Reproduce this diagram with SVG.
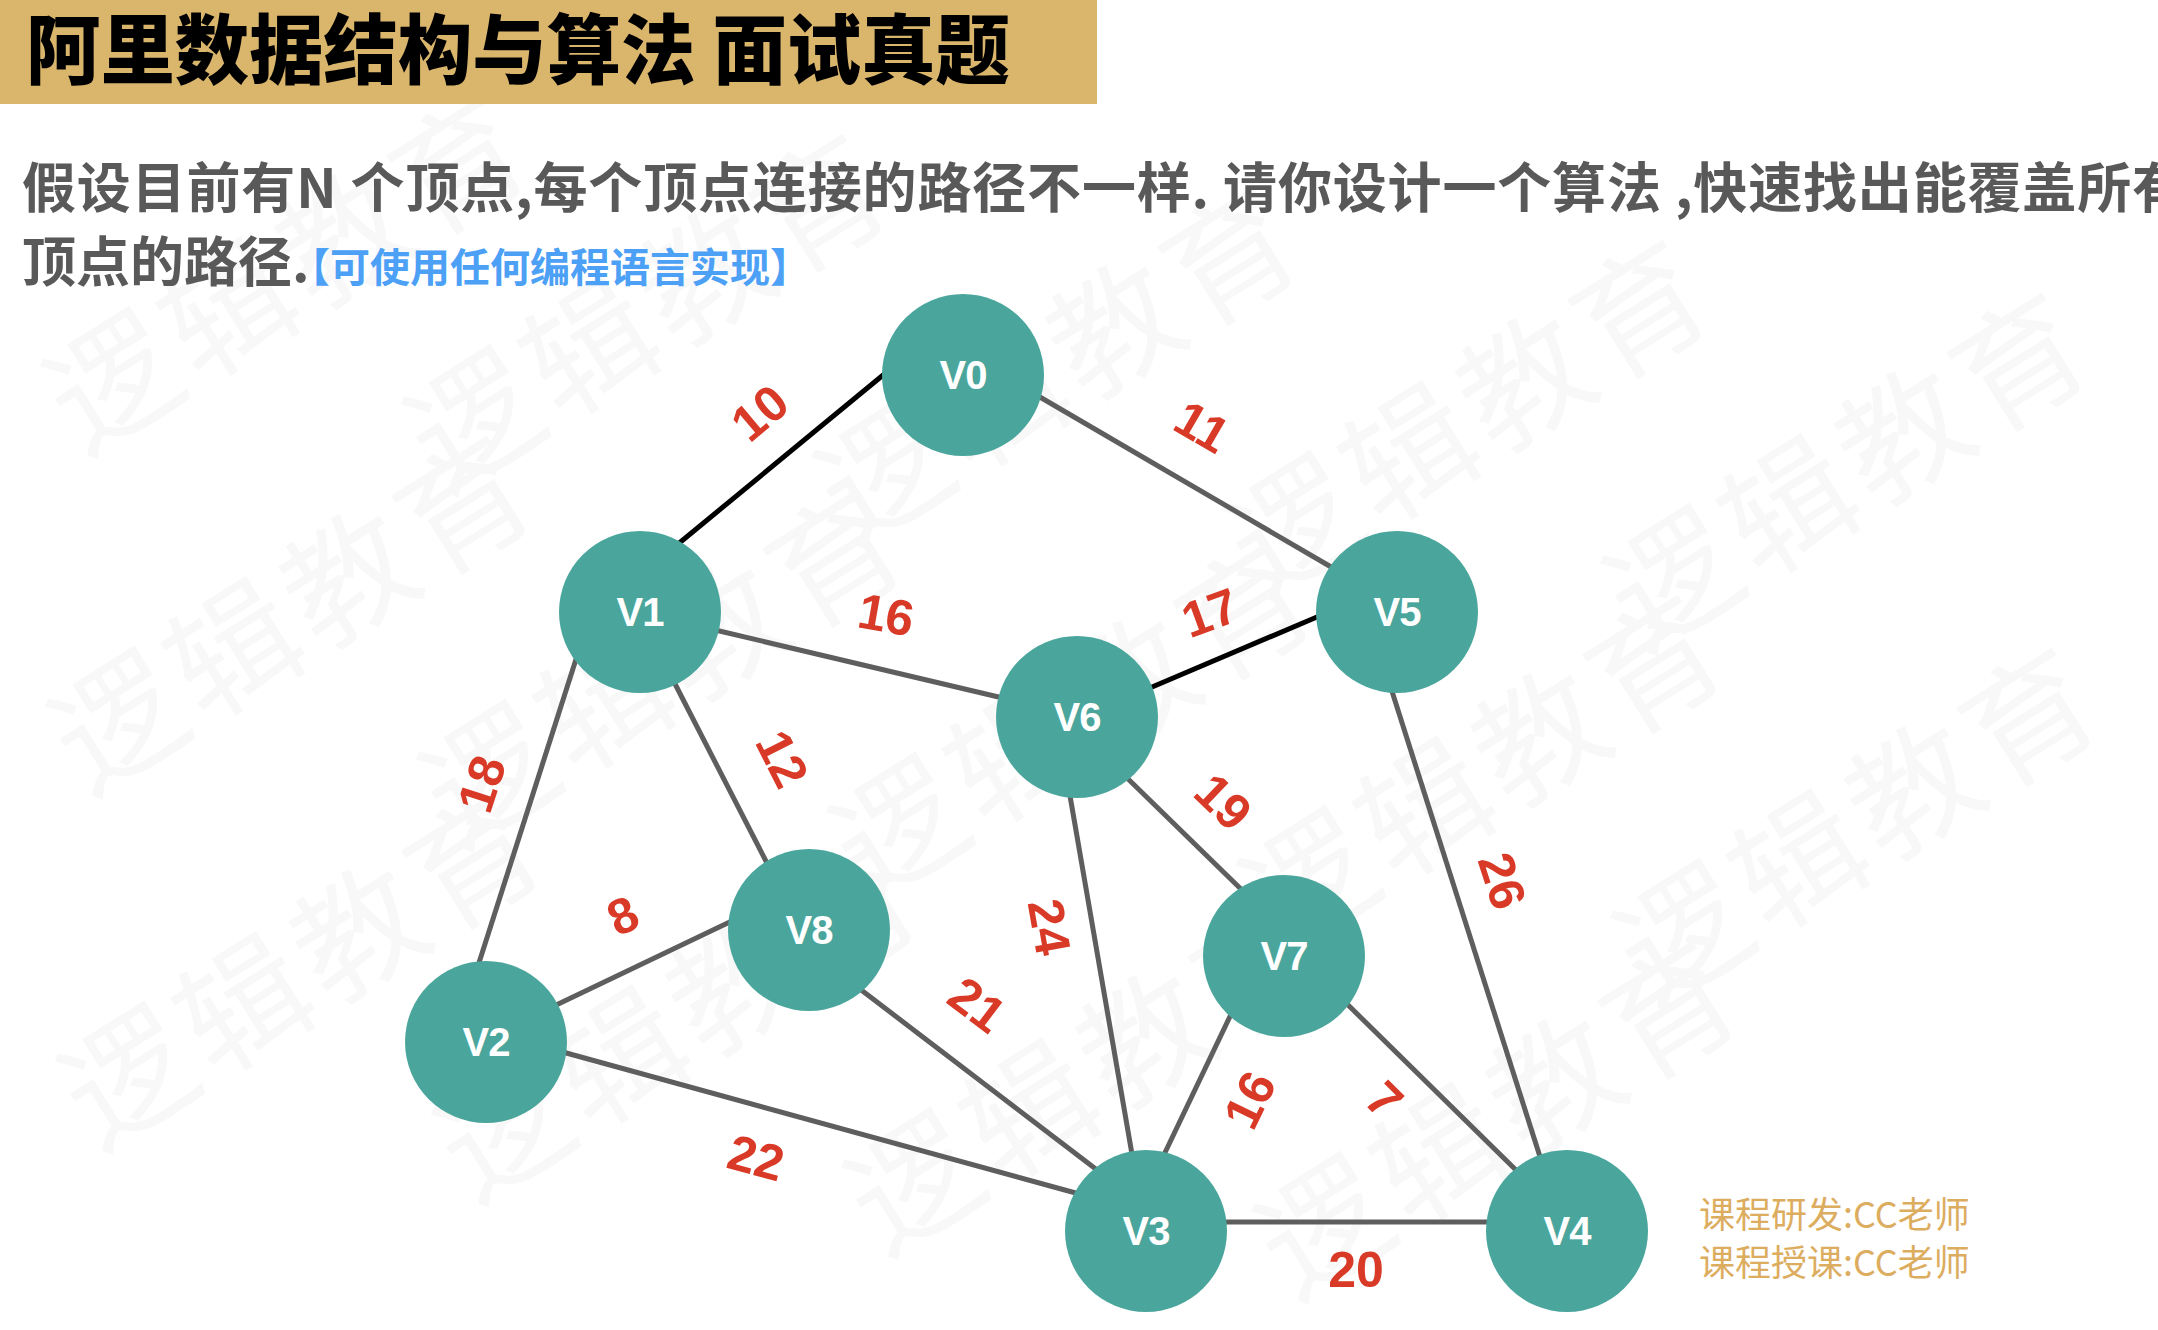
<svg xmlns="http://www.w3.org/2000/svg" width="2158" height="1330" viewBox="0 0 2158 1330">
<defs>
<style>
.wm{font-family:"Noto Sans CJK SC","Noto Sans",sans-serif;font-size:128px;font-weight:400;fill:#f8f8f8;letter-spacing:8px;text-anchor:middle;dominant-baseline:central}
.title{font-family:"Noto Sans CJK SC","Noto Sans",sans-serif;font-size:76px;font-weight:900;fill:#000}
.para{font-family:"Noto Sans CJK SC","Noto Sans",sans-serif;font-size:54px;font-weight:700;fill:#595959}
.note{font-family:"Noto Sans CJK SC","Noto Sans",sans-serif;font-size:40px;font-weight:700;fill:#4ca0f5}
.foot{font-family:"Noto Sans CJK SC","Noto Sans",sans-serif;font-size:36px;font-weight:400;fill:#dcad5f}
.node{fill:#4aa69c}
.nl{font-family:"Liberation Sans",Arial,sans-serif;font-size:40px;font-weight:700;fill:#fff;text-anchor:middle;dominant-baseline:central;letter-spacing:-1px}
.el{font-family:"Liberation Sans",Arial,sans-serif;font-size:50px;font-weight:700;fill:#d93a27;text-anchor:middle;dominant-baseline:central}
.g{stroke:#5e5e5e;stroke-width:5;fill:none}
.k{stroke:#000;stroke-width:5;fill:none}
</style>
</defs>
<rect width="2158" height="1330" fill="#fff"/>
<g id="watermarks">
<text class="wm" x="1845" y="462" transform="rotate(-32 1845 462)">逻辑教育</text>
<text class="wm" x="1855" y="817" transform="rotate(-32 1855 817)">逻辑教育</text>
<text class="wm" x="1466" y="409" transform="rotate(-32 1466 409)">逻辑教育</text>
<text class="wm" x="1481" y="764" transform="rotate(-32 1481 764)">逻辑教育</text>
<text class="wm" x="1496" y="1110" transform="rotate(-32 1496 1110)">逻辑教育</text>
<text class="wm" x="1056" y="356" transform="rotate(-32 1056 356)">逻辑教育</text>
<text class="wm" x="1071" y="711" transform="rotate(-32 1071 711)">逻辑教育</text>
<text class="wm" x="1086" y="1066" transform="rotate(-32 1086 1066)">逻辑教育</text>
<text class="wm" x="646" y="303" transform="rotate(-32 646 303)">逻辑教育</text>
<text class="wm" x="661" y="658" transform="rotate(-32 661 658)">逻辑教育</text>
<text class="wm" x="676" y="1013" transform="rotate(-32 676 1013)">逻辑教育</text>
<text class="wm" x="285" y="265" transform="rotate(-32 285 265)">逻辑教育</text>
<text class="wm" x="290" y="605" transform="rotate(-32 290 605)">逻辑教育</text>
<text class="wm" x="300" y="960" transform="rotate(-32 300 960)">逻辑教育</text>
</g>
<g id="header">
<rect x="0" y="0" width="1097" height="104" fill="#dab66d"/>
<text class="title" x="26" y="78" textLength="984" lengthAdjust="spacingAndGlyphs">阿里数据结构与算法 面试真题</text>
</g>
<g id="question">
<text class="para" x="22" y="208" textLength="2164">假设目前有N 个顶点,每个顶点连接的路径不一样. 请你设计一个算法 ,快速找出能覆盖所有</text>
<text class="para" x="22" y="282">顶点的路径.</text>
<text class="note" x="290" y="282">【可使用任何编程语言实现】</text>
</g>
<g id="connectors">
<line id="e-v0-v1" class="k" x1="888" y1="371" x2="672" y2="549"/>
<line id="e-v0-v5" class="g" x1="1033" y1="393" x2="1338" y2="571"/>
<line id="e-v1-v6" class="g" x1="711" y1="629" x2="1007" y2="699"/>
<line id="e-v6-v5" class="k" x1="1145" y1="690" x2="1324" y2="614"/>
<line id="e-v1-v2" class="g" x1="578" y1="653" x2="477" y2="969"/>
<line id="e-v1-v8" class="g" x1="672" y1="678" x2="770" y2="869"/>
<line id="e-v2-v8" class="g" x1="552" y1="1007" x2="736" y2="919"/>
<line id="e-v2-v3" class="g" x1="559" y1="1051" x2="1083" y2="1195"/>
<line id="e-v8-v3" class="g" x1="856" y1="986" x2="1101" y2="1173"/>
<line id="e-v6-v3" class="g" x1="1069" y1="790" x2="1133" y2="1160"/>
<line id="e-v6-v7" class="g" x1="1123" y1="774" x2="1246" y2="894"/>
<line id="e-v7-v3" class="g" x1="1234" y1="1008" x2="1161" y2="1161"/>
<line id="e-v7-v4" class="g" x1="1342" y1="999" x2="1521" y2="1175"/>
<line id="e-v5-v4" class="g" x1="1390" y1="685" x2="1542" y2="1163"/>
<line id="e-v3-v4" class="g" x1="1219" y1="1222" x2="1495" y2="1222"/>
<text class="el" x="760" y="413" transform="rotate(-40 760 413)">10</text>
<text class="el" x="1202" y="427" transform="rotate(30 1202 427)">11</text>
<text class="el" x="886" y="615" transform="rotate(10 886 615)">16</text>
<text class="el" x="1210" y="613" transform="rotate(-20 1210 613)">17</text>
<text class="el" x="482" y="784" transform="rotate(-72 482 784)">18</text>
<text class="el" x="782" y="759" transform="rotate(63 782 759)">12</text>
<text class="el" x="623" y="916" transform="rotate(-25 623 916)">8</text>
<text class="el" x="756" y="1158" transform="rotate(15 756 1158)">22</text>
<text class="el" x="977" y="1005" transform="rotate(37 977 1005)">21</text>
<text class="el" x="1049" y="927" transform="rotate(80 1049 927)">24</text>
<text class="el" x="1223" y="802" transform="rotate(44 1223 802)">19</text>
<text class="el" x="1250" y="1100" transform="rotate(-64 1250 1100)">16</text>
<text class="el" x="1384" y="1100" transform="rotate(45 1384 1100)">7</text>
<text class="el" x="1502" y="881" transform="rotate(72 1502 881)">26</text>
<text class="el" x="1356" y="1270">20</text>
</g>
<g id="V0"><circle class="node" cx="963" cy="375" r="81"/><text class="nl" x="963" y="375">V0</text></g>
<g id="V1"><circle class="node" cx="640" cy="612" r="81"/><text class="nl" x="640" y="612">V1</text></g>
<g id="V2"><circle class="node" cx="486" cy="1042" r="81"/><text class="nl" x="486" y="1042">V2</text></g>
<g id="V3"><circle class="node" cx="1146" cy="1231" r="81"/><text class="nl" x="1146" y="1231">V3</text></g>
<g id="V4"><circle class="node" cx="1567" cy="1231" r="81"/><text class="nl" x="1567" y="1231">V4</text></g>
<g id="V5"><circle class="node" cx="1397" cy="612" r="81"/><text class="nl" x="1397" y="612">V5</text></g>
<g id="V6"><circle class="node" cx="1077" cy="717" r="81"/><text class="nl" x="1077" y="717">V6</text></g>
<g id="V7"><circle class="node" cx="1284" cy="956" r="81"/><text class="nl" x="1284" y="956">V7</text></g>
<g id="V8"><circle class="node" cx="809" cy="930" r="81"/><text class="nl" x="809" y="930">V8</text></g>
<g id="footer">
<text class="foot" x="1699" y="1228">课程研发:CC老师</text>
<text class="foot" x="1699" y="1276">课程授课:CC老师</text>
</g>
</svg>
